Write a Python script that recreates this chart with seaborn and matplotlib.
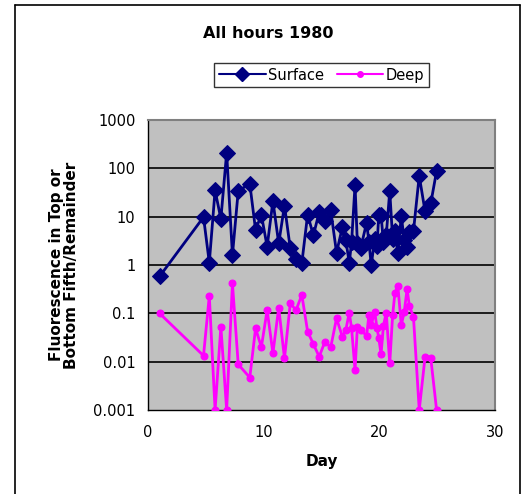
import matplotlib
matplotlib.use("Agg")
import matplotlib.pyplot as plt
from matplotlib.lines import Line2D
import seaborn as sns
import pandas as pd

day = [1.0, 4.8, 5.3, 5.8, 6.3, 6.8, 7.3, 7.8, 8.8, 9.3, 9.8, 10.3, 10.8, 11.3,
       11.8, 12.3, 12.8, 13.3, 13.8, 14.3, 14.8, 15.3, 15.8, 16.3, 16.8, 17.1,
       17.4, 17.6, 17.9, 18.1, 18.4, 18.9, 19.1, 19.3, 19.6, 19.8, 19.95, 20.15,
       20.35, 20.6, 20.9, 21.15, 21.35, 21.6, 21.9, 22.15, 22.4, 22.6, 22.95,
       23.45, 23.95, 24.45, 24.95]

surface = [0.58, 9.8, 1.12, 35, 9.0, 210, 1.6, 34, 48, 5.3, 11, 2.4, 21, 2.8,
           17, 2.2, 1.35, 1.1, 11, 4.1, 12.5, 8.0, 13.5, 1.8, 6.0, 3.3,
           1.1, 3.0, 45, 2.8, 2.3, 7.5, 3.0, 1.0, 3.4, 2.5, 10.8, 10.8,
           3.0, 4.2, 34, 3.5, 5.0, 1.75, 10.3, 3.3, 2.4, 4.9, 5.0,
           70, 13, 19, 88]

deep = [0.1, 0.0133, 0.23, 0.001, 0.053, 0.001, 0.42, 0.0088, 0.0047, 0.049,
        0.02, 0.117, 0.0149, 0.131, 0.0117, 0.16, 0.117, 0.24, 0.042, 0.023,
        0.0127, 0.026, 0.02, 0.079, 0.033, 0.045, 0.103, 0.049, 0.0067, 0.052,
        0.046, 0.034, 0.092, 0.057, 0.108, 0.049, 0.031, 0.0142, 0.055, 0.103,
        0.0092, 0.092, 0.267, 0.37, 0.057, 0.106, 0.32, 0.14, 0.085, 0.001,
        0.0123, 0.0117, 0.001]

y_ticks = [0.001, 0.01, 0.1, 1, 10, 100, 1000]
y_tick_labels = ["0.001", "0.01", "0.1", "1", "10", "100", "1000"]
x_ticks = [0, 10, 20, 30]

NAVY = "#000080"
MAGENTA = "#FF00FF"

sns.set_theme(style="white")
plt.rcParams["font.family"] = ["DejaVu Sans"]
plt.rcParams["text.color"] = "black"
plt.rcParams["axes.labelcolor"] = "black"

df = pd.DataFrame({"Day": day, "Surface": surface, "Deep": deep})

fig = plt.figure(figsize=(5.27, 4.94), dpi=100)
ax = fig.add_axes([148 / 527, 1 - 410 / 494, (495 - 148) / 527, (410 - 120) / 494])
ax.set_facecolor("#C0C0C0")

sns.lineplot(data=df, x="Day", y="Surface", ax=ax, color=NAVY, lw=2,
             marker="D", markersize=8.5, markeredgecolor=NAVY,
             estimator=None, sort=False, zorder=3)
sns.lineplot(data=df, x="Day", y="Deep", ax=ax, color=MAGENTA, lw=2,
             marker="o", markersize=5, markeredgecolor=MAGENTA,
             estimator=None, sort=False, zorder=3)

ax.set_yscale("log")
ax.set_ylim(0.001, 1000)
ax.set_xlim(0, 30)
ax.set_yticks(y_ticks)
ax.set_yticklabels(y_tick_labels)
ax.set_xticks(x_ticks)
ax.minorticks_off()
for v in y_ticks[1:-1]:
    ax.axhline(v, color="black", lw=1.2, zorder=1)

for side in ["left", "bottom"]:
    ax.spines[side].set_color("black")
    ax.spines[side].set_linewidth(1.0)
for side in ["top", "right"]:
    ax.spines[side].set_color("#808080")
    ax.spines[side].set_linewidth(1.5)

ax.tick_params(axis="both", which="major", direction="out", length=5,
               width=1, color="black", labelsize=10.5, labelcolor="black", pad=4)
ax.tick_params(axis="x", pad=6)

ax.set_xlabel("Day", fontsize=11, fontweight="bold", labelpad=10, color="black")
ax.set_ylabel("Fluorescence in Top or\nBottom Fifth/Remainder", fontsize=11,
              fontweight="bold", labelpad=10, linespacing=1.0, color="black")

fig.text(268 / 527, 1 - 33 / 494, "All hours 1980", ha="center", va="center",
         fontsize=11.5, fontweight="bold", color="black")

handles = [
    Line2D([], [], color=NAVY, lw=1.5, marker="D", markersize=7),
    Line2D([], [], color=MAGENTA, lw=1.5, marker="o", markersize=4),
]
leg = fig.legend(handles, ["Surface", "Deep"], loc="center",
                 bbox_to_anchor=(321.5 / 527, 1 - 75 / 494), ncol=2,
                 frameon=True, fancybox=False, fontsize=10.5,
                 handlelength=3.2, handletextpad=0.15, columnspacing=0.9,
                 borderpad=0.3, borderaxespad=0)
leg.get_frame().set_edgecolor("black")
leg.get_frame().set_linewidth(1.0)
for t in leg.get_texts():
    t.set_color("black")

# outer chart-area border
for xs, ys in [((15, 15), (5, 494)), ((15, 520), (5, 5)), ((520, 520), (5, 494))]:
    fig.add_artist(Line2D([x / 527 for x in xs], [1 - y / 494 for y in ys],
                          color="black", lw=1.2, transform=fig.transFigure))

fig.savefig("out.png", dpi=100)
